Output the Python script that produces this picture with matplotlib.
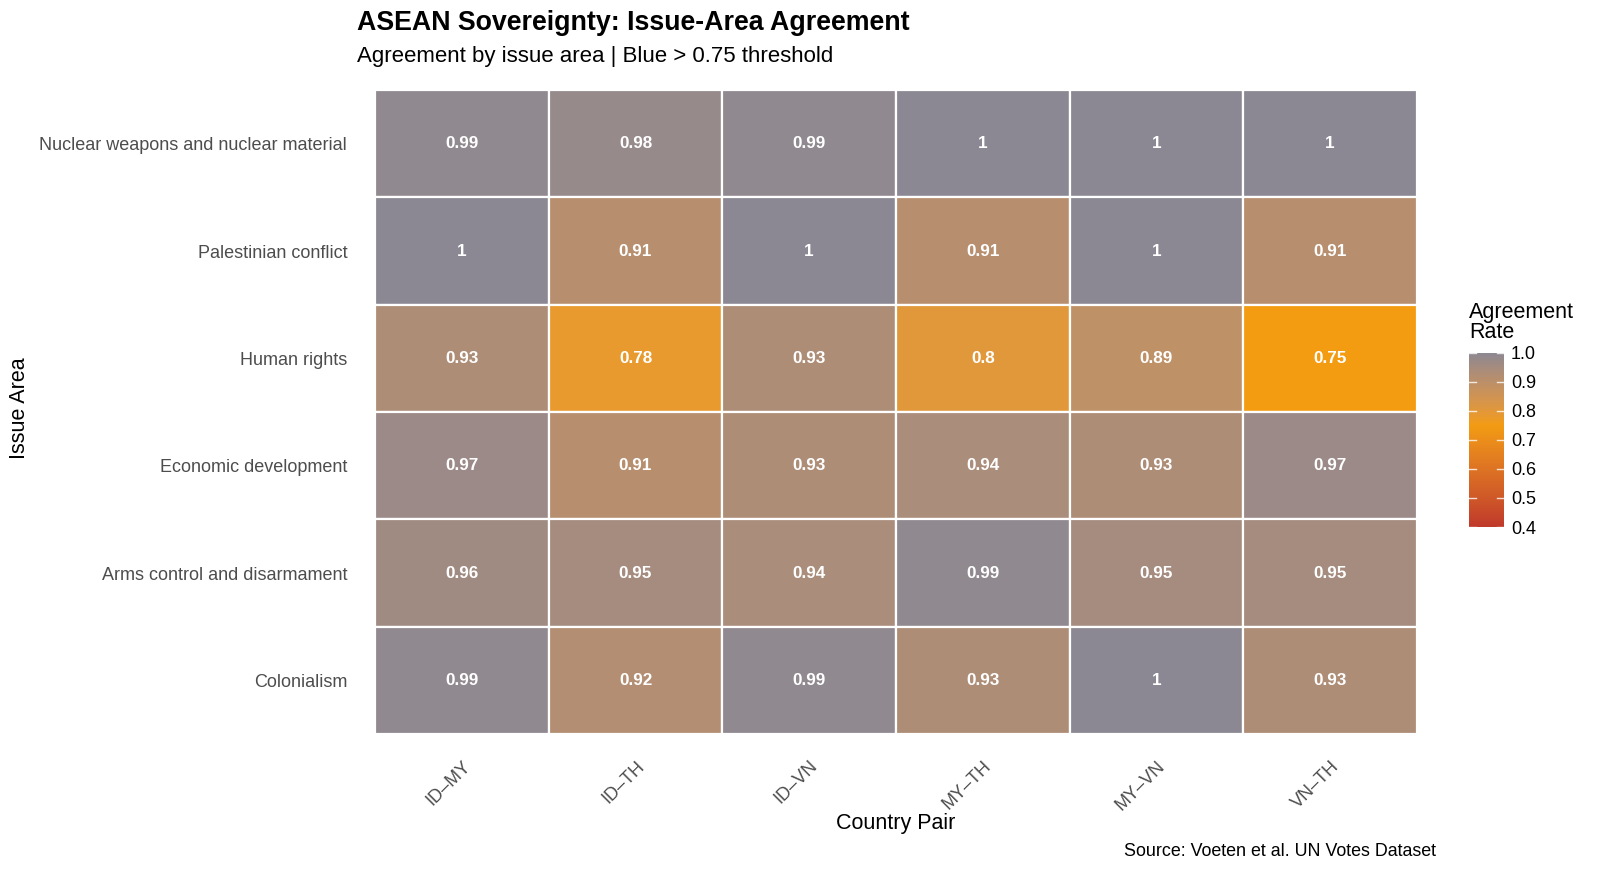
import matplotlib
matplotlib.use("Agg")
import matplotlib.pyplot as plt
import numpy as np
from matplotlib.colors import ListedColormap, Normalize, to_rgb

plt.rcParams['font.family'] = ['Liberation Sans', 'DejaVu Sans']

issues = ["Nuclear weapons and nuclear material", "Palestinian conflict", "Human rights",
          "Economic development", "Arms control and disarmament", "Colonialism"]
pairs = ["ID–MY", "ID–TH", "ID–VN", "MY–TH", "MY–VN", "VN–TH"]

nuclear = [0.99, 0.98, 0.99, 1.00, 1.00, 1.00]
palestinian = [1.00, 0.91, 1.00, 0.91, 1.00, 0.91]
human_rights = [0.93, 0.78, 0.93, 0.80, 0.89, 0.75]
economic = [0.97, 0.91, 0.93, 0.94, 0.93, 0.97]
arms = [0.96, 0.95, 0.94, 0.99, 0.95, 0.95]
colonialism = [0.99, 0.92, 0.99, 0.93, 1.00, 0.93]

vals = np.array([nuclear, palestinian, human_rights, economic, arms, colonialism])

vmin, vmid, vmax = 0.4, 0.75, 1.0
low_c, mid_c, high_c = "#c0392b", "#f39c12", "#8b8893"

# --- Lab interpolation (like ggplot's gradient2) ---
def srgb_to_lab(c):
    c = np.asarray(c, float)
    lin = np.where(c <= 0.04045, c / 12.92, ((c + 0.055) / 1.055) ** 2.4)
    M = np.array([[0.4124, 0.3576, 0.1805], [0.2126, 0.7152, 0.0722], [0.0193, 0.1192, 0.9505]])
    xyz = M @ lin / np.array([0.95047, 1.0, 1.08883])
    f = np.where(xyz > 0.008856, np.cbrt(xyz), 7.787 * xyz + 16 / 116)
    return np.array([116 * f[1] - 16, 500 * (f[0] - f[1]), 200 * (f[1] - f[2])])

def lab_to_srgb(lab):
    L, a, b = lab
    fy = (L + 16) / 116
    fx = fy + a / 500
    fz = fy - b / 200
    f = np.array([fx, fy, fz])
    xyz = np.where(f ** 3 > 0.008856, f ** 3, (f - 16 / 116) / 7.787) * np.array([0.95047, 1.0, 1.08883])
    Minv = np.array([[3.2406, -1.5372, -0.4986], [-0.9689, 1.8758, 0.0415], [0.0557, -0.2040, 1.0570]])
    lin = Minv @ xyz
    lin = np.clip(lin, 0, 1)
    c = np.where(lin <= 0.0031308, 12.92 * lin, 1.055 * lin ** (1 / 2.4) - 0.055)
    return np.clip(c, 0, 1)

labs = [srgb_to_lab(to_rgb(c)) for c in (low_c, mid_c, high_c)]
N = 512
xs = np.linspace(vmin, vmax, N)
cols = []
for v in xs:
    if v <= vmid:
        t = (v - vmin) / (vmid - vmin)
        lab = labs[0] + t * (labs[1] - labs[0])
    else:
        t = (v - vmid) / (vmax - vmid)
        lab = labs[1] + t * (labs[2] - labs[1])
    cols.append(lab_to_srgb(lab))
cmap = ListedColormap(cols)
norm = Normalize(vmin=vmin, vmax=vmax)

W, H = 1600, 873
fig = plt.figure(figsize=(16, 8.73), dpi=100)
L, R, T, B = 375, 1417, 90, 734
ax = fig.add_axes([L / W, 1 - B / H, (R - L) / W, (B - T) / H])

nr, nc = vals.shape
for i in range(nr):
    for j in range(nc):
        ax.add_patch(plt.Rectangle((j - 0.5, i - 0.5), 1, 1, facecolor=cmap(norm(vals[i, j])),
                                   edgecolor="white", linewidth=1.6))
        lab = f"{vals[i, j]:.2f}".rstrip("0").rstrip(".")
        ax.text(j, i, lab, ha="center", va="center", color="white", fontsize=12.3,
                fontweight="bold")

ax.set_xlim(-0.5, nc - 0.5)
ax.set_ylim(nr - 0.5, -0.5)
ax.set_xticks(range(nc))
ax.set_xticklabels(pairs, rotation=45, ha="right", va="top", rotation_mode="anchor",
                   fontsize=13, color="#4d4d4d")
ax.set_yticks(range(nr))
ax.set_yticklabels(issues, fontsize=13, color="#4d4d4d")
ax.tick_params(length=0, pad=17, axis="x")
ax.tick_params(length=0, pad=20, axis="y")
for s in ax.spines.values():
    s.set_visible(False)

fig.text(20 / W, 1 - 408 / H, "Issue Area", rotation=90, ha="center", va="center", fontsize=15.5)
fig.text(896 / W, 1 - 823 / H, "Country Pair", ha="center", va="center", fontsize=15.5)
fig.text(357 / W, 1 - 30 / H, "ASEAN Sovereignty: Issue-Area Agreement", ha="left", va="baseline",
         fontsize=19.3, fontweight="bold")
fig.text(357 / W, 1 - 62 / H, "Agreement by issue area | Blue > 0.75 threshold", ha="left",
         va="baseline", fontsize=16)
fig.text(1436 / W, 1 - 852 / H, "Source: Voeten et al. UN Votes Dataset", ha="right",
         va="center", fontsize=12.9)

# colorbar
cax = fig.add_axes([1469 / W, 1 - 527 / H, 35 / W, (527 - 353) / H])
grad = np.linspace(vmin, vmax, 400).reshape(-1, 1)
cax.imshow(grad, aspect="auto", cmap=cmap, norm=norm, origin="lower",
           extent=[0, 1, vmin, vmax])
ticks = [0.4, 0.5, 0.6, 0.7, 0.8, 0.9, 1.0]
cax.set_xlim(0, 1)
cax.set_ylim(vmin, vmax)
cax.set_xticks([])
cax.set_yticks(ticks)
cax.set_yticklabels([f"{t:.1f}" for t in ticks], fontsize=13)
cax.yaxis.tick_right()
cax.tick_params(axis="y", length=0, pad=5)
for t in ticks:
    cax.plot([0, 0.2], [t, t], color="white", lw=1, alpha=0.8)
    cax.plot([0.8, 1], [t, t], color="white", lw=1, alpha=0.8)
for s in cax.spines.values():
    s.set_visible(False)
fig.text(1469 / W, 1 - 338 / H, "Agreement\nRate", ha="left", va="baseline", fontsize=15.5,
         linespacing=0.95)

fig.savefig("out.png", dpi=100, facecolor="white")
